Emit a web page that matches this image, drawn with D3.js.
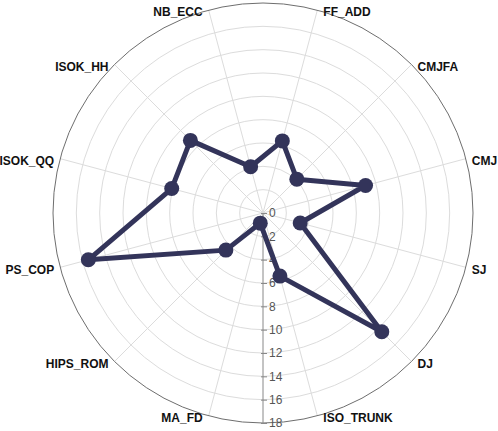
<!DOCTYPE html>
<html>
<head>
<meta charset="utf-8">
<script src="https://cdn.jsdelivr.net/npm/d3@7"></script>
<style>
  body { margin: 0; background: #fff; }
  svg { display: block; font-family: "Liberation Sans", Arial, sans-serif; }
</style>
</head>
<body>
<div id="radar"></div>
<script>
// categories clockwise, starting just right of 12 o'clock
const categories = ["FF_ADD", "CMJFA", "CMJ", "SJ", "DJ", "ISO_TRUNK",
                    "MA_FD", "HIPS_ROM", "PS_COP", "ISOK_QQ", "ISOK_HH", "NB_ECC"];
const values = [6.4, 4.1, 9.1, 3.3, 14.4, 5.6, 0.9, 4.5, 15.5, 8.1, 8.8, 4.1];
const tickValues = [0, 2, 4, 6, 8, 10, 12, 14, 16, 18];

const width = 498, height = 431;
const cx = 263, cy = 213, R = 210;

const svg = d3.select("#radar").append("svg")
  .attr("width", width)
  .attr("height", height);

const g = svg.append("g").attr("transform", `translate(${cx},${cy})`);

const r = d3.scaleLinear().domain([0, 18]).range([0, R]);

// angle of each spoke, offset half a step (15 deg)
const step = 2 * Math.PI / categories.length;
const angle = d3.scaleOrdinal()
  .domain(categories)
  .range(categories.map((c, i) => i * step + step / 2));

// grid rings
g.append("g")
  .selectAll("circle")
  .data(tickValues.slice(1, -1))
  .join("circle")
    .attr("r", d => r(d))
    .attr("fill", "none")
    .attr("stroke", "#dcdcdc")
    .attr("stroke-width", 1);

// spokes
g.append("g")
  .selectAll("line")
  .data(categories)
  .join("line")
    .attr("x1", 0).attr("y1", 0)
    .attr("x2", d => R * Math.sin(angle(d)))
    .attr("y2", d => -R * Math.cos(angle(d)))
    .attr("stroke", "#dcdcdc")
    .attr("stroke-width", 1);

// outer ring
g.append("circle")
  .attr("r", r(18))
  .attr("fill", "none")
  .attr("stroke", "#6e6e6e")
  .attr("stroke-width", 1);

// radial axis pointing down
const axis = g.append("g")
  .call(d3.axisRight(r.copy().range([0, R]))
    .tickValues(tickValues)
    .tickSize(4)
    .tickPadding(2));
axis.select(".domain").attr("stroke", "#888").attr("d", `M0,0V${R}`);
axis.selectAll(".tick line").attr("stroke", "#888").attr("x1", -2);
axis.selectAll("text")
  .attr("fill", "#555")
  .style("font-size", "12px")
  .style("font-family", "'Liberation Sans', Arial, sans-serif");

// category labels
g.append("g")
  .selectAll("text")
  .data(categories)
  .join("text")
    .attr("x", d => R * Math.sin(angle(d)) + (Math.sin(angle(d)) > 0 ? 6 : -6))
    .attr("y", d => -R * Math.cos(angle(d)) + 2)
    .attr("dy", "0.35em")
    .attr("text-anchor", d => Math.sin(angle(d)) > 0 ? "start" : "end")
    .style("font-size", "12px")
    .style("font-weight", "bold")
    .attr("fill", "#111")
    .text(d => d);

// data polygon
const data = categories.map((c, i) => ({ key: c, value: values[i] }));
const line = d3.lineRadial()
  .angle(d => angle(d.key))
  .radius(d => r(d.value))
  .curve(d3.curveLinearClosed);

const color = "#33345a";

g.append("path")
  .datum(data)
  .attr("d", line)
  .attr("fill", "none")
  .attr("stroke", color)
  .attr("stroke-width", 5)
  .attr("stroke-linejoin", "round");

g.append("g")
  .selectAll("circle")
  .data(data)
  .join("circle")
    .attr("cx", d => r(d.value) * Math.sin(angle(d.key)))
    .attr("cy", d => -r(d.value) * Math.cos(angle(d.key)))
    .attr("r", 7.5)
    .attr("fill", color);
</script>
</body>
</html>
